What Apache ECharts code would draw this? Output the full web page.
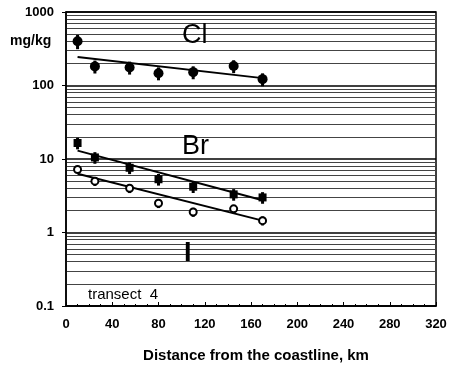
<!DOCTYPE html>
<html>
<head>
<meta charset="utf-8">
<script src="https://cdn.jsdelivr.net/npm/echarts@6/dist/echarts.min.js"></script>
<style>
  html, body { margin: 0; padding: 0; background: #fff; }
  #chart { width: 455px; height: 368px; }
</style>
</head>
<body>
<div id="chart"></div>
<script>
// distance from the coastline, km
const distances = [10, 25, 55, 80, 110, 145, 170];
// concentrations, mg/kg
const clValues = [400, 182, 176, 147, 152, 184, 122];
const brValues = [16.5, 10.5, 7.6, 5.3, 4.2, 3.3, 3.0];
const iValues = [7.2, 5.0, 4.0, 2.5, 1.9, 2.1, 1.45];
// relative half-height of the error bars
const clErr = [0.22, 0.2, 0.2, 0.2, 0.2, 0.2, 0.2];
const brErr = [0.18, 0.18, 0.18, 0.18, 0.18, 0.18, 0.18];
const iErr = [0.1, 0.14, 0.14, 0.14, 0.14, 0.12, 0.14];
// trend line end points [km, mg/kg]
const clTrend = [[10, 245], [170, 126]];
const brTrend = [[10, 13], [170, 2.75]];
const iTrend = [[10, 6.3], [170, 1.45]];
// y minor grid lines (2..9 in every decade)
const minorGrid = [];
[0.1, 1, 10, 100].forEach(d => {
    for (let k = 2; k <= 9; k++) minorGrid.push(+(d * k).toPrecision(3));
});

const font = 'Liberation Sans, Arial, sans-serif';
const chart = echarts.init(document.getElementById('chart'));

const zip = (xs, ys) => xs.map((x, i) => [x, ys[i]]);
const zip3 = (xs, ys, es) => xs.map((x, i) => [x, ys[i], es[i]]);

function errorBars(data) {
    return {
        type: 'custom',
        silent: true,
        z: 9,
        renderItem(params, api) {
            const x = api.value(0), y = api.value(1), e = api.value(2);
            const p1 = api.coord([x, y * (1 + e)]);
            const p2 = api.coord([x, y * (1 - e)]);
            return {
                type: 'line',
                shape: {x1: p1[0], y1: p1[1], x2: p2[0], y2: p2[1]},
                style: {stroke: '#000', lineWidth: 3}
            };
        },
        data: data
    };
}

function trend(data) {
    return {
        type: 'line',
        data: data,
        symbol: 'none',
        silent: true,
        z: 7,
        lineStyle: {color: '#000', width: 2}
    };
}

const option = {
    backgroundColor: '#fff',
    animation: false,
    grid: {left: 66, right: 19, top: 12, bottom: 60, show: true, borderColor: '#000', borderWidth: 1.5},
    xAxis: {
        type: 'value',
        min: 0,
        max: 320,
        interval: 40,
        name: 'Distance from the coastline, km',
        nameLocation: 'middle',
        nameGap: 42,
        nameTextStyle: {fontFamily: font, fontWeight: 'bold', fontSize: 15, color: '#000', padding: [0, 0, 0, 10]},
        axisLine: {lineStyle: {color: '#000', width: 1.5}},
        axisTick: {inside: true, length: 4, lineStyle: {color: '#000'}},
        minorTick: {show: true, splitNumber: 4, length: 2, lineStyle: {color: '#000'}},
        axisLabel: {fontFamily: font, fontWeight: 'bold', fontSize: 13, color: '#000', margin: 12},
        splitLine: {show: false}
    },
    yAxis: {
        type: 'log',
        logBase: 10,
        min: 0.1,
        max: 1000,
        axisLine: {show: true, lineStyle: {color: '#000', width: 1.5}},
        axisTick: {length: 4, lineStyle: {color: '#000'}},
        axisLabel: {
            fontFamily: font, fontWeight: 'bold', fontSize: 13, color: '#000', margin: 12,
            formatter: v => String(+v.toPrecision(3))
        },
        splitLine: {lineStyle: {color: '#000', width: 1.5}}
    },
    graphic: [
        {type: 'text', left: 10, top: 34, z: 100, style: {text: 'mg/kg', font: 'bold 14px ' + font, fill: '#000'}},
        {type: 'text', left: 182, top: 22, z: 100, style: {text: 'Cl', font: '27px ' + font, fill: '#000'}},
        {type: 'text', left: 182, top: 133, z: 100, style: {text: 'Br', font: '27px ' + font, fill: '#000'}},
        {type: 'text', left: 184, top: 240, z: 100, style: {text: 'I', font: 'bold 27px ' + font, fill: '#000'}},
        {type: 'text', left: 88, top: 287, z: 100, style: {text: 'transect  4', font: '15px ' + font, fill: '#000'}}
    ],
    series: [
        {
            type: 'line',
            data: [],
            silent: true,
            z: 0,
            markLine: {
                symbol: 'none',
                silent: true,
                z: 0,
                label: {show: false},
                lineStyle: {color: '#444', width: 1, type: 'solid'},
                data: minorGrid.map(v => ({yAxis: v}))
            }
        },
        trend(clTrend),
        trend(brTrend),
        trend(iTrend),
        errorBars(zip3(distances, clValues, clErr)),
        errorBars(zip3(distances, brValues, brErr)),
        errorBars(zip3(distances, iValues, iErr)),
        {
            type: 'scatter', z: 10, data: zip(distances, clValues),
            symbol: 'circle', symbolSize: [10, 10],
            itemStyle: {color: '#000', opacity: 1}
        },
        {
            type: 'scatter', z: 10, data: zip(distances, brValues),
            symbol: 'rect', symbolSize: [8, 8],
            itemStyle: {color: '#000', opacity: 1}
        },
        {
            type: 'scatter', z: 10, data: zip(distances, iValues),
            symbol: 'circle', symbolSize: 7,
            itemStyle: {color: '#fff', borderColor: '#000', borderWidth: 2, opacity: 1}
        }
    ]
};
chart.setOption(option);
</script>
</body>
</html>
